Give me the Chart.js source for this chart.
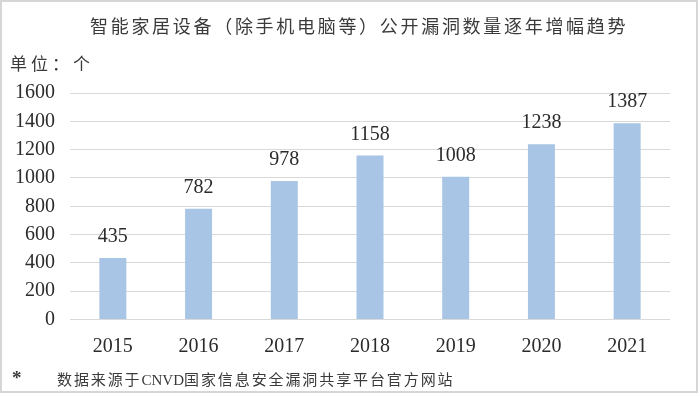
<!DOCTYPE html>
<html>
<head>
<meta charset="utf-8">
<script src="https://cdn.jsdelivr.net/npm/chart.js@4.4.1/dist/chart.umd.min.js"></script>
<style>
  html, body { margin: 0; padding: 0; background: #fff; }
  #wrap { position: relative; width: 700px; height: 396px; overflow: hidden; }
  #frame { position: absolute; left: 0; top: 0; width: 694px; height: 389px;
           border: 2px solid #d6d6d6; pointer-events: none; }
  canvas { position: absolute; left: 0; top: 0; }
  .txt { position: absolute; white-space: nowrap; color: #3a3a3a;
         font-family: "Liberation Serif", "Noto Sans CJK SC", serif; }
  #title { left: 90px; top: 15px; font-size: 18px; line-height: 24px; letter-spacing: 2.7px; }
  #unit  { left: 10px; top: 53px; font-size: 17px; line-height: 24px; letter-spacing: 4px; }
  #star  { left: 12px; top: 367px; font-size: 19px; line-height: 22px; font-weight: bold; }
  #note  { left: 57px; top: 369px; font-size: 15px; line-height: 22px; letter-spacing: 1.9px; }
  #note .lat { letter-spacing: 0; font-size: 15px; }
</style>
</head>
<body>
<div id="wrap">
  <canvas id="chart" width="700" height="396"></canvas>
  <div class="txt" id="title">智能家居设备（除手机电脑等）公开漏洞数量逐年增幅趋势</div>
  <div class="txt" id="unit">单位：个</div>
  <div class="txt" id="star">*</div>
  <div class="txt" id="note">数据来源于<span class="lat">CNVD</span>国家信息安全漏洞共享平台官方网站</div>
  <div id="frame"></div>
</div>
<script>
/* ---------- data ---------- */
const years  = ["2015", "2016", "2017", "2018", "2019", "2020", "2021"];
const counts = [435, 782, 978, 1158, 1008, 1238, 1387];
const yMin = 0, yMax = 1600, yStep = 200;

const SERIF = '"Liberation Serif", "Noto Sans CJK SC", serif';

/* value labels above each bar */
const valueLabels = {
  id: "valueLabels",
  afterDatasetsDraw(chart) {
    const { ctx } = chart;
    const meta = chart.getDatasetMeta(0);
    ctx.save();
    ctx.font = `20px ${SERIF}`;
    ctx.fillStyle = "#2b2b2b";
    ctx.textAlign = "center";
    ctx.textBaseline = "middle";
    meta.data.forEach((bar, i) => {
      ctx.fillText(String(counts[i]), bar.x, bar.y - 21);
    });
    ctx.restore();
  }
};

new Chart(document.getElementById("chart"), {
  type: "bar",
  data: {
    labels: years,
    datasets: [{
      data: counts,
      backgroundColor: "#a8c5e6",
      borderWidth: 0,
      categoryPercentage: 1,
      barPercentage: 0.315
    }]
  },
  options: {
    responsive: false,
    animation: false,
    layout: { padding: { top: 93, right: 30, bottom: 0, left: 0 } },
    plugins: { legend: { display: false }, tooltip: { enabled: false } },
    scales: {
      x: {
        grid: { display: false, drawTicks: false },
        border: { display: false },
        ticks: { color: "#2b2b2b", font: { family: SERIF, size: 20 }, padding: 15 },
        afterFit(scale) { scale.height = 76.5; }
      },
      y: {
        min: yMin, max: yMax,
        grid: { color: "#d9d9d9", lineWidth: 1, drawTicks: false },
        border: { display: false },
        ticks: {
          stepSize: yStep, color: "#2b2b2b", font: { family: SERIF, size: 20 }, padding: 15,
          callback: v => String(v)
        },
        afterFit(scale) { scale.width = 70; }
      }
    }
  },
  plugins: [valueLabels]
});
</script>
</body>
</html>
